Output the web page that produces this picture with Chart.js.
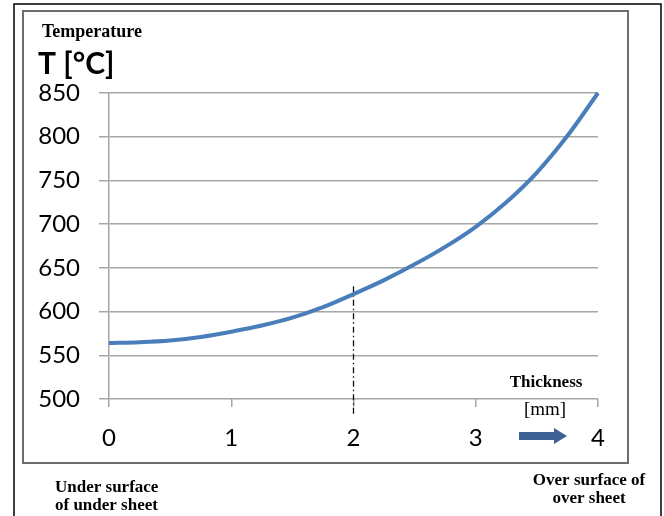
<!DOCTYPE html>
<html lang="en">
<head>
<meta charset="UTF-8">
<script src="https://cdn.jsdelivr.net/npm/chart.js@4.4.0/dist/chart.umd.min.js"></script>
<style>
  html, body { margin: 0; padding: 0; background: #fff; }
</style>
</head>
<body>
<canvas id="myChart" width="664" height="516"></canvas>
<script>
    // thickness [mm] from under surface (0) to over surface (4)
    const thickness = [0, 0.25, 0.5, 0.75, 1, 1.25, 1.5, 1.75, 2, 2.25, 2.5, 2.75, 3, 3.25, 3.5, 3.75, 4];
    const temperature = [564, 565, 567, 571, 577, 584, 593, 605, 620, 636, 654, 674, 697, 725, 759, 801, 850];
    // dash-dot marker at 2 mm
    const markerX = [2, 2];
    const markerY = [629, 482];

    const serif = '"Liberation Serif", "Times New Roman", serif';

    // frame, captions and arrow drawn around the plot
    const decor = {
        id: 'decor',
        beforeDraw(chart) {
            const c = chart.ctx;
            c.save();
            c.fillStyle = '#fff';
            c.fillRect(0, 0, chart.width, chart.height);
            c.restore();
        },
        afterDraw(chart) {
            const c = chart.ctx;
            c.save();
            // outer page frame
            c.strokeStyle = '#000';
            c.lineWidth = 1.5;
            c.beginPath();
            c.moveTo(14, 516); c.lineTo(14, 4); c.lineTo(661, 4); c.lineTo(661, 516);
            c.stroke();
            // chart box
            c.strokeStyle = '#6e6e6e';
            c.lineWidth = 2;
            c.strokeRect(23, 11, 605, 452);

            c.fillStyle = '#000';
            c.textBaseline = 'middle';
            c.textAlign = 'left';
            c.font = 'bold 18px ' + serif;
            c.fillText('Temperature', 42, 32);
            c.font = 'bold 30px Lato';
            c.fillText('T [°C]', 38, 64);

            c.textAlign = 'center';
            c.font = 'bold 17px ' + serif;
            c.fillText('Thickness', 546, 383);
            c.font = '19px ' + serif;
            c.fillText('[mm]', 545, 410);

            c.textAlign = 'left';
            c.font = 'bold 17px ' + serif;
            c.fillText('Under surface', 55, 488);
            c.fillText('of under sheet', 55, 506);
            c.textAlign = 'center';
            c.fillText('Over surface of', 589, 481);
            c.fillText('over sheet', 589, 499);

            // arrow
            c.fillStyle = '#3d6293';
            c.beginPath();
            c.moveTo(519, 432);
            c.lineTo(554, 432);
            c.lineTo(554, 428);
            c.lineTo(567, 436);
            c.lineTo(554, 444);
            c.lineTo(554, 440);
            c.lineTo(519, 440);
            c.closePath();
            c.fill();
            c.restore();
        }
    };

    const ctx = document.getElementById('myChart').getContext('2d');
    const myChart = new Chart(ctx, {
        type: 'line',
        data: {
            datasets: [{
                label: 'Temperature',
                data: thickness.map((x, i) => ({ x: x, y: temperature[i] })),
                borderColor: '#4a7ebb',
                borderWidth: 4,
                pointRadius: 0,
                cubicInterpolationMode: 'monotone',
                fill: false,
                clip: false
            }, {
                label: 'marker',
                data: markerX.map((x, i) => ({ x: x, y: markerY[i] })),
                borderColor: '#111',
                borderWidth: 1.3,
                borderDash: [6, 3, 1.5, 3],
                pointRadius: 0,
                clip: false
            }]
        },
        options: {
            responsive: false,
            animation: false,
            layout: { padding: { left: 0, right: 66, top: 93, bottom: 57 } },
            plugins: { legend: { display: false }, tooltip: { enabled: false } },
            scales: {
                x: {
                    type: 'linear',
                    min: 0,
                    max: 4,
                    afterFit(scale) { scale.height = 60; },
                    ticks: { stepSize: 1, color: '#000', padding: 17, font: { family: 'Lato', size: 24 } },
                    grid: { drawOnChartArea: false, color: '#a6a6a6', lineWidth: 1.5, tickLength: 8 },
                    border: { display: false }
                },
                y: {
                    min: 500,
                    max: 850,
                    afterFit(scale) { scale.width = 109; },
                    ticks: { stepSize: 50, color: '#000', padding: 19, font: { family: 'Lato', size: 24 } },
                    grid: { color: '#a6a6a6', lineWidth: 1.5, tickLength: 10 },
                    border: { color: '#a6a6a6', width: 1.5 }
                }
            }
        },
        plugins: [decor]
    });
</script>
</body>
</html>
